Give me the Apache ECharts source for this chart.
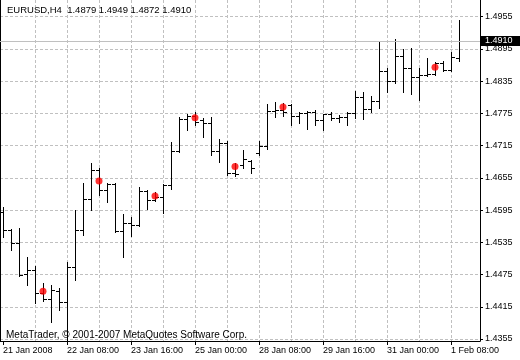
<!DOCTYPE html>
<html>
<head>
<meta charset="utf-8">
<script src="https://cdn.jsdelivr.net/npm/echarts@6/dist/echarts.min.js"></script>
<style>html,body{margin:0;padding:0;background:#fff}#c{width:520px;height:360px}</style>
</head>
<body>
<div id="c"></div>
<script>
// ---- data (EURUSD H4) ----
const symbol = 'EURUSD';
const timeframe = 'H4';
const opens  = [1.4592,1.4558,1.4534,1.4476,1.4484,1.4441,1.4430,1.4444,1.4424,1.4489,
                1.4558,1.4616,1.4670,1.4633,1.4644,1.4556,1.4571,1.4567,1.4631,1.4614,
                1.4620,1.4642,1.4705,1.4765,1.4771,1.4763,1.4758,1.4705,1.4720,1.4664,
                1.4679,1.4687,1.4702,1.4715,1.4780,1.4782,1.4791,1.4771,1.4776,1.4778,
                1.4763,1.4773,1.4767,1.4769,1.4776,1.4806,1.4784,1.4798,1.4854,1.4836,
                1.4882,1.4860,1.4843,1.4847,1.4849,1.4869,1.4856,1.4879];
const highs  = [1.4601,1.4560,1.4562,1.4508,1.4491,1.4459,1.4456,1.4450,1.4498,1.4595,
                1.4646,1.4683,1.4674,1.4646,1.4646,1.4588,1.4582,1.4638,1.4633,1.4629,
                1.4644,1.4722,1.4769,1.4774,1.4778,1.4767,1.4769,1.4728,1.4724,1.4683,
                1.4707,1.4688,1.4724,1.4793,1.4797,1.4795,1.4793,1.4778,1.4780,1.4782,
                1.4774,1.4778,1.4772,1.4777,1.4817,1.4815,1.4808,1.4908,1.4860,1.4914,
                1.4895,1.4897,1.4860,1.4879,1.4871,1.4873,1.4890,1.4949];
const lows   = [1.4545,1.4521,1.4472,1.4456,1.4422,1.4426,1.4387,1.4409,1.4354,1.4465,
                1.4549,1.4595,1.4623,1.4610,1.4554,1.4508,1.4547,1.4565,1.4597,1.4612,
                1.4590,1.4635,1.4703,1.4744,1.4754,1.4731,1.4698,1.4685,1.4661,1.4659,
                1.4674,1.4664,1.4698,1.4709,1.4769,1.4771,1.4754,1.4758,1.4746,1.4754,
                1.4744,1.4763,1.4759,1.4754,1.4767,1.4765,1.4778,1.4785,1.4815,1.4832,
                1.4815,1.4812,1.4800,1.4845,1.4847,1.4853,1.4853,1.4872];
const closes = [1.4558,1.4534,1.4474,1.4484,1.4441,1.4430,1.4446,1.4424,1.4489,1.4558,
                1.4616,1.4670,1.4633,1.4644,1.4556,1.4571,1.4567,1.4631,1.4614,1.4620,
                1.4642,1.4705,1.4765,1.4771,1.4759,1.4758,1.4705,1.4720,1.4664,1.4662,
                1.4690,1.4674,1.4715,1.4780,1.4782,1.4778,1.4771,1.4776,1.4778,1.4763,
                1.4773,1.4767,1.4769,1.4776,1.4806,1.4784,1.4798,1.4853,1.4836,1.4882,
                1.4860,1.4843,1.4847,1.4849,1.4869,1.4856,1.4880,1.4910];
const dotIndex  = [5, 12, 19, 24, 29, 35, 54];
const dotValues = [1.4444, 1.4649, 1.4621, 1.4767, 1.4676, 1.4787, 1.4861];
const timeLabelIndex = [0, 8, 16, 24, 32, 40, 48, 56];
const timeLabels = ['21 Jan 2008','22 Jan 08:00','23 Jan 16:00','25 Jan 00:00',
                    '28 Jan 08:00','29 Jan 16:00','31 Jan 00:00','1 Feb 08:00'];
const gridLineIndex = [4, 8, 12, 16, 20, 24, 28, 32, 36, 40, 44, 48, 52, 56];
const priceTicks = [1.4355, 1.4415, 1.4475, 1.4535, 1.4595, 1.4655, 1.4715,
                    1.4775, 1.4835, 1.4895, 1.4955];
const footerText = 'MetaTrader, \u00a9 2001-2007 MetaQuotes Software Corp.';

// ---- build ----
const n = closes.length;
const ohlc = opens.map((o, i) => [i, o, highs[i], lows[i], closes[i]]);
const dots = dotIndex.map((i, k) => [i, dotValues[k]]);
const last = n - 1;
const f4 = v => v.toFixed(4);
const headerText = symbol + ',' + timeframe + '  ' + f4(opens[last]) + ' ' + f4(highs[last]) + ' ' + f4(lows[last]) + ' ' + f4(closes[last]);
const FONT = 'Liberation Sans';

const chart = echarts.init(document.getElementById('c'), null, {renderer: 'canvas'});
chart.setOption({
  animation: false,
  backgroundColor: '#ffffff',
  textStyle: {fontFamily: FONT},
  title: [
    {text: headerText, left: 7, top: 5, padding: 0,
     textStyle: {fontFamily: FONT, fontSize: 9.5, fontWeight: 'normal', color: '#000'}},
    {text: footerText, left: 6, top: 330, padding: 0,
     textStyle: {fontFamily: FONT, fontSize: 10, fontWeight: 'normal', color: '#000'}}
  ],
  grid: {left: 0, right: 40, top: 0, bottom: 19, containLabel: false},
  xAxis: [
    {type: 'value', position: 'bottom', min: -0.375, max: 59.625,
     axisLine: {show: true, onZero: false, lineStyle: {color: '#000', width: 1}},
     axisTick: {show: true, length: 4, customValues: timeLabelIndex, lineStyle: {color: '#000'}},
     axisLabel: {show: true, customValues: timeLabelIndex, align: 'left', margin: 5,
       fontFamily: FONT, fontSize: 9, color: '#000',
       formatter: v => { const k = timeLabelIndex.indexOf(Math.round(v)); return k >= 0 ? timeLabels[k] : ''; }},
     splitLine: {show: false}},
    {type: 'value', position: 'top', min: -0.375, max: 59.625,
     axisLine: {show: false}, axisTick: {show: false, customValues: gridLineIndex},
     axisLabel: {show: false, customValues: gridLineIndex},
     splitLine: {show: true, lineStyle: {color: '#c0c0c0', type: [3, 2], width: 1}}}
  ],
  yAxis: [
    {type: 'value', position: 'right', min: 1.43513, max: 1.49861,
     axisLine: {show: true, onZero: false, lineStyle: {color: '#000', width: 1}},
     axisTick: {show: true, length: 3, customValues: priceTicks, lineStyle: {color: '#000'}},
     axisLabel: {show: true, customValues: priceTicks, margin: 5, fontFamily: FONT, fontSize: 9, color: '#000',
       formatter: v => v.toFixed(4)},
     splitLine: {show: true, lineStyle: {color: '#c0c0c0', type: [3, 2], width: 1}}},
    {type: 'value', position: 'left', min: 1.43513, max: 1.49861,
     axisLine: {show: true, onZero: false, lineStyle: {color: '#000', width: 1}},
     axisTick: {show: false}, axisLabel: {show: false}, splitLine: {show: false}}
  ],
  series: [
    {type: 'custom', xAxisIndex: 0, yAxisIndex: 0, data: ohlc, clip: false, z: 3,
     renderItem: function (params, api) {
       const x = api.value(0);
       const pO = api.coord([x, api.value(1)]);
       const pH = api.coord([x, api.value(2)]);
       const pL = api.coord([x, api.value(3)]);
       const pC = api.coord([x, api.value(4)]);
       const c = Math.round(pH[0]);
       const cx = c + 0.5;
       const yH = Math.round(pH[1]);
       const yL = Math.round(pL[1]) + 1;
       const yO = Math.round(pO[1]) + 0.5;
       const yC = Math.round(pC[1]) + 0.5;
       const st = {stroke: '#000', lineWidth: 1};
       return {type: 'group', children: [
         {type: 'line', shape: {x1: cx, y1: yH, x2: cx, y2: yL}, style: st},
         {type: 'line', shape: {x1: c - 3, y1: yO, x2: c, y2: yO}, style: st},
         {type: 'line', shape: {x1: c + 1, y1: yC, x2: c + 4, y2: yC}, style: st}
       ]};
     }},
    {type: 'scatter', xAxisIndex: 0, yAxisIndex: 0, data: dots, symbol: 'circle', symbolSize: 7, z: 5,
     itemStyle: {color: '#ff0000'},
     markLine: {silent: true, symbol: ['none', 'none'], precision: 4,
       lineStyle: {color: '#c0c0c0', type: 'solid', width: 1},
       label: {show: true, position: 'end', distance: 1, formatter: () => f4(closes[last]),
         backgroundColor: '#000', color: '#fff', fontFamily: FONT, fontSize: 9,
         lineHeight: 10, padding: [0, 8, 0, 4]},
       emphasis: {disabled: true},
       data: [{yAxis: closes[last]}]}}
  ]
});
</script>
</body>
</html>
